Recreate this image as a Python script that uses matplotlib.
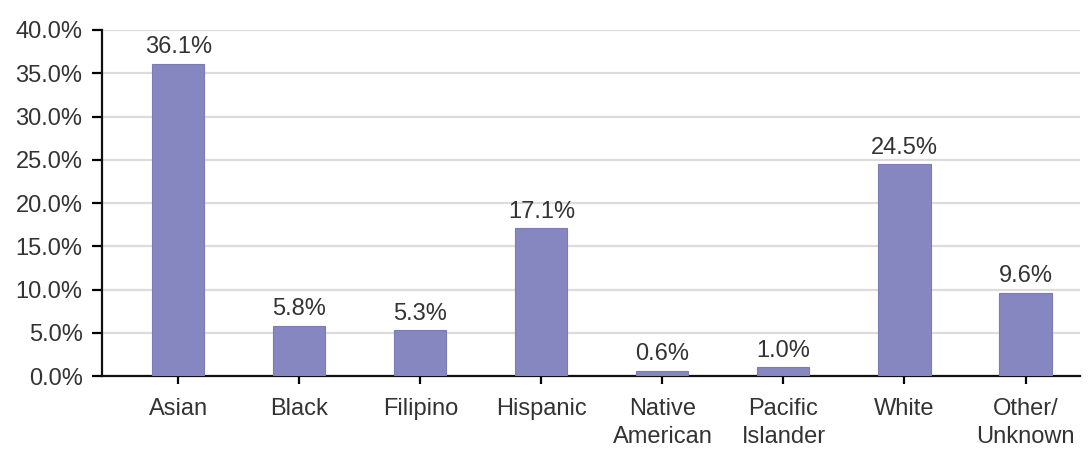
import matplotlib.pyplot as plt
from matplotlib.ticker import FuncFormatter

plt.rcParams['font.family'] = ['Liberation Sans', 'DejaVu Sans']

categories = ['Asian', 'Black', 'Filipino', 'Hispanic', 'Native\nAmerican',
              'Pacific\nIslander', 'White', 'Other/\nUnknown']
percents = [36.1, 5.8, 5.3, 17.1, 0.6, 1.0, 24.5, 9.6]
y_ticks = [0, 5, 10, 15, 20, 25, 30, 35, 40]

fig = plt.figure(figsize=(10.92, 4.58), dpi=100)
ax = fig.add_axes([0.0934, 0.179, 0.8956, 0.7555])

x = list(range(len(categories)))
bars = ax.bar(x, percents, width=0.43, color='#8686c0', edgecolor='#7b7bb8',
              linewidth=0.8, zorder=3)

for b, v in zip(bars, percents):
    ax.annotate('%.1f%%' % v, (b.get_x() + b.get_width() / 2, v),
                xytext=(0, 4), textcoords='offset points',
                ha='center', va='bottom', fontsize=17, color='#333333')

ax.set_xlim(-0.63, 7.45)
ax.set_ylim(0, 40)
ax.set_yticks(y_ticks)
ax.yaxis.set_major_formatter(FuncFormatter(lambda v, p: '%.1f%%' % v))
ax.set_xticks(x)
ax.set_xticklabels(categories, linespacing=1.35)

ax.grid(axis='y', color='#dcdcdc', linewidth=1.6, zorder=0)
ax.set_axisbelow(True)

for s in ['top', 'right']:
    ax.spines[s].set_visible(False)
for s in ['left', 'bottom']:
    ax.spines[s].set_linewidth(1.6)
    ax.spines[s].set_color('#111111')

ax.tick_params(axis='y', length=7, width=1.6, pad=7, labelsize=17,
               labelcolor='#333333')
ax.tick_params(axis='x', length=6, width=1.6, pad=10, labelsize=17,
               labelcolor='#333333')

fig.savefig('out.png', dpi=100)
